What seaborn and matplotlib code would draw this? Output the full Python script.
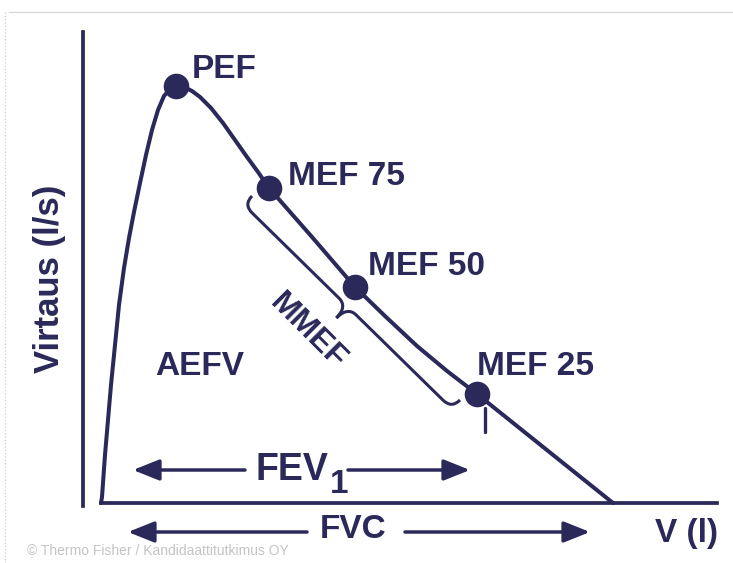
import numpy as np
import pandas as pd
import matplotlib
matplotlib.use("Agg")
import matplotlib.pyplot as plt
import seaborn as sns
from matplotlib.path import Path
from matplotlib.patches import PathPatch, Rectangle

# ------------------------------------------------------------
# Data: flow-volume curve (volume in l, flow in l/s)
# ------------------------------------------------------------
volume = [0.00, 0.01, 0.04, 0.07, 0.10, 0.14, 0.18, 0.23, 0.28, 0.33, 0.39,
          0.45, 0.51, 0.57, 0.63, 0.69, 0.75, 0.83, 0.91, 0.99, 1.10, 1.22,
          1.34, 1.46, 1.57, 1.68, 2.11, 2.54, 2.85, 3.16, 3.46, 3.76, 4.44,
          5.12]
flow = [0.00, 0.12, 0.96, 1.66, 2.36, 3.16, 3.96, 4.70, 5.30, 5.82, 6.40,
        6.96, 7.46, 7.86, 8.14, 8.28, 8.34, 8.32, 8.24, 8.12, 7.90, 7.60,
        7.26, 6.92, 6.62, 6.30, 5.32, 4.32, 3.72, 3.14, 2.64, 2.18, 1.09,
        0.00]

point_names = ["PEF", "MEF 75", "MEF 50", "MEF 25"]
point_volume = [0.75, 1.68, 2.54, 3.76]
point_flow = [8.34, 6.30, 4.32, 2.18]
label_volume = [0.91, 1.87, 2.67, 3.76]
label_flow = [8.50, 6.36, 4.56, 2.56]

NAVY = "#2a2959"
FONT = "Liberation Sans"

curve = pd.DataFrame({"volume": volume, "flow": flow})
points = pd.DataFrame({"name": point_names, "volume": point_volume, "flow": point_flow})

# ------------------------------------------------------------
# Figure
# ------------------------------------------------------------
sns.set_theme(style="white")
plt.rcParams["font.family"] = [FONT, "DejaVu Sans"]

fig = plt.figure(figsize=(7.33, 5.63), dpi=100)
ax = fig.add_axes([0, 0, 1, 1])
ax.set_xlim(-1.01, 6.32)
ax.set_ylim(-1.2, 10.06)

sns.lineplot(data=curve, x="volume", y="flow", sort=False, estimator=None,
             color=NAVY, linewidth=2.9, ax=ax, zorder=3)
sns.scatterplot(data=points, x="volume", y="flow", s=340, color=NAVY,
                edgecolor=NAVY, linewidth=0, ax=ax, zorder=4)

# axes drawn as spines: y-axis separate, x-axis starting at curve origin
for side in ["top", "right"]:
    ax.spines[side].set_visible(False)
ax.spines["left"].set_position(("data", -0.18))
ax.spines["left"].set_bounds(-0.06, 9.42)
ax.spines["bottom"].set_position(("data", 0))
ax.spines["bottom"].set_bounds(0, 6.16)
for side in ["left", "bottom"]:
    ax.spines[side].set_color(NAVY)
    ax.spines[side].set_linewidth(2.7)
ax.set_xticks([])
ax.set_yticks([])
ax.set_xlabel("")
ax.set_ylabel("")

txt = dict(color=NAVY, fontsize=24, fontweight="bold", family=FONT)

for name, vx, fy in zip(point_names, label_volume, label_flow):
    ax.text(vx, fy, name, ha="left", va="baseline", **txt)

ax.text(0.54, 2.56, "AEFV", ha="left", va="baseline", **txt)
ax.text(-0.51, 4.48, "Virtaus (l/s)", rotation=90, ha="center", va="center",
        color=NAVY, fontsize=25, fontweight="bold", family=FONT)
ax.text(5.54, -0.78, "V (l)", ha="left", va="baseline", **txt)
ax.text(1.54, 0.46, "FEV", ha="left", va="baseline",
        color=NAVY, fontsize=27, fontweight="bold", family=FONT)
ax.text(2.29, 0.20, "1", ha="left", va="baseline", **txt)
ax.text(2.19, -0.70, "FVC", ha="left", va="baseline", **txt)

# small marker under MEF 25
ax.plot([3.84, 3.84], [1.90, 1.42], color=NAVY, linewidth=2.4, zorder=3)

# arrows
arrow = dict(arrowstyle="-|>,head_length=0.8,head_width=0.32", color=NAVY,
             lw=2.5, mutation_scale=20, shrinkA=0, shrinkB=0)
for tail, head, fy in [(1.44, 0.32, 0.66), (2.47, 3.69, 0.66),
                       (2.06, 0.27, -0.58), (3.04, 4.89, -0.58)]:
    ax.annotate("", xy=(head, fy), xytext=(tail, fy), arrowprops=arrow)

# MMEF curly brace, built in pixel space then mapped to data
brace_start = (1.51, 6.14)
brace_end = (3.59, 2.06)
p0, p1 = ax.transData.transform([brace_start, brace_end])
d = p1 - p0
L = np.hypot(*d)
u = d / L
n = np.array([u[1], -u[0]])  # normal pointing to lower-left
w, tip, q = 12, 28, 12
local = [(0, 0), (0, w), (q, w), (L / 2 - q, w), (L / 2, w), (L / 2, tip),
         (L / 2, w), (L / 2 + q, w), (L - q, w), (L, w), (L, 0)]
codes = [Path.MOVETO, Path.CURVE3, Path.CURVE3, Path.LINETO, Path.CURVE3,
         Path.CURVE3, Path.CURVE3, Path.CURVE3, Path.LINETO, Path.CURVE3,
         Path.CURVE3]
disp = np.array([p0 + s * u + t * n for s, t in local])
brace = ax.transData.inverted().transform(disp)
ax.add_patch(PathPatch(Path(brace, codes), fill=False, edgecolor=NAVY,
                       linewidth=2.2, zorder=3))
ax.text(2.07, 3.42, "MMEF", rotation=-45, ha="center", va="center",
        color=NAVY, fontsize=23, fontweight="bold", family=FONT)

# page frame and faint source line
ax.plot([-0.92, 6.32], [9.82, 9.82], color="#d6d6d6", linewidth=0.9)
ax.plot([-0.96, -0.96], [9.82, -1.2], color="#cfcfcf", linewidth=0.9,
        linestyle=":")
src = ax.text(-0.74, -0.82, "\u00a9 Thermo Fisher / Kandidaattitutkimus OY",
              ha="left", va="top", color="#c4c4c4", fontsize=10, family=FONT)
src.set_clip_path(Rectangle((-1.01, -1.0), 7.33, 1.0, transform=ax.transData))

fig.savefig("out.png", dpi=100)
